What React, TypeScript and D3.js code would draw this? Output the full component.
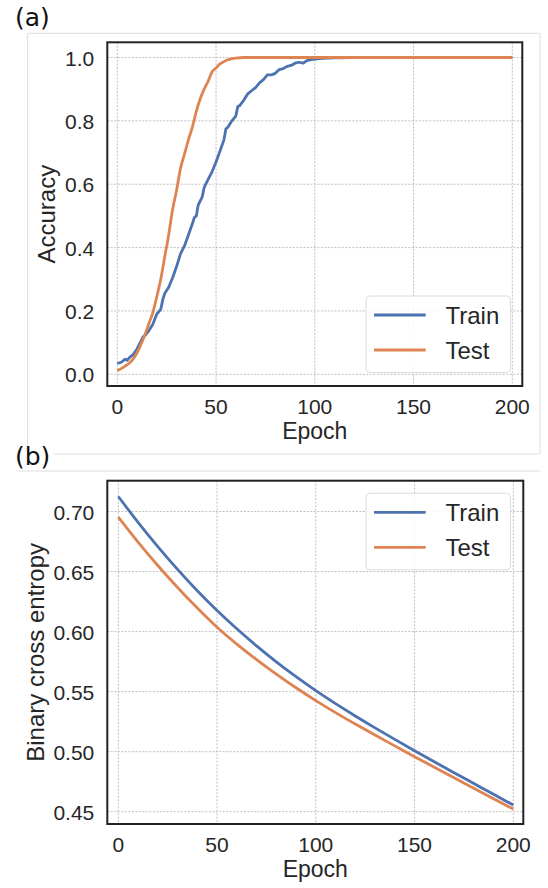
import React from 'react';
import * as d3 from 'd3';

// Shared epoch axis
const epochTicks = [0, 50, 100, 150, 200];

// Panel (a): accuracy
const accTicks = [0.0, 0.2, 0.4, 0.6, 0.8, 1.0];
const trainAccEpochs = [0, 2, 4, 5, 6, 8, 10, 12, 13, 14, 16, 18, 20, 22, 23, 24, 26, 28, 30, 32, 34, 36, 38, 39, 40, 41, 43, 44, 46, 48, 50, 52, 54, 55, 56, 58, 60, 61, 62, 64, 66, 68, 70, 72, 74, 76, 78, 80, 82, 84, 86, 88, 90, 92, 94, 96, 98, 100, 104, 110, 120, 200];
const trainAcc = [0.034, 0.038, 0.048, 0.044, 0.052, 0.062, 0.080, 0.105, 0.118, 0.122, 0.138, 0.158, 0.190, 0.205, 0.235, 0.255, 0.275, 0.305, 0.340, 0.380, 0.405, 0.440, 0.475, 0.495, 0.500, 0.535, 0.560, 0.590, 0.615, 0.640, 0.670, 0.705, 0.740, 0.775, 0.780, 0.800, 0.815, 0.845, 0.848, 0.865, 0.885, 0.895, 0.905, 0.920, 0.930, 0.945, 0.945, 0.950, 0.962, 0.965, 0.972, 0.975, 0.982, 0.985, 0.982, 0.990, 0.993, 0.995, 0.997, 0.999, 1.0, 1.0];
const testAccEpochs = [0, 2, 4, 6, 8, 10, 12, 14, 16, 18, 20, 22, 24, 26, 28, 30, 32, 34, 36, 38, 40, 42, 44, 46, 48, 50, 52, 54, 56, 58, 60, 64, 200];
const testAcc = [0.012, 0.018, 0.026, 0.035, 0.048, 0.068, 0.095, 0.125, 0.160, 0.195, 0.245, 0.300, 0.370, 0.440, 0.520, 0.580, 0.650, 0.695, 0.740, 0.780, 0.830, 0.870, 0.900, 0.925, 0.955, 0.967, 0.980, 0.987, 0.993, 0.996, 0.998, 1.0, 1.0];

// Panel (b): binary cross entropy
const lossTicks = [0.45, 0.50, 0.55, 0.60, 0.65, 0.70];
const lossEpochs = [0, 10, 20, 30, 40, 50, 60, 70, 80, 90, 100, 110, 120, 130, 140, 150, 160, 170, 180, 190, 200];
const trainLoss = [0.7125, 0.691, 0.6708, 0.6518, 0.634, 0.6175, 0.6023, 0.5881, 0.5748, 0.5624, 0.5508, 0.54, 0.5297, 0.5198, 0.5102, 0.5008, 0.4916, 0.4825, 0.4735, 0.4645, 0.4555];
const testLoss = [0.6953, 0.6745, 0.655, 0.6367, 0.6196, 0.6036, 0.5896, 0.5767, 0.5646, 0.5532, 0.5425, 0.5325, 0.523, 0.5138, 0.5048, 0.4958, 0.487, 0.4782, 0.4695, 0.4608, 0.4522];

const seriesNames = ['Train', 'Test'];
const BLUE = '#4c72b0';
const ORANGE = '#dd8452';
const TEXT = '#262626';
const FONT = '"Liberation Sans", Arial, Helvetica, sans-serif';

type Series = { xs: number[]; ys: number[]; color: string; curve: d3.CurveFactory };

type PanelProps = {
  frame: { left: number; right: number; top: number; bottom: number };
  xRange: [number, number];
  yDomain: [number, number];
  yRange: [number, number];
  yTicks: number[];
  yFormat: (v: number) => string;
  yLabel: string;
  yLabelX: number;
  series: Series[];
  legendTop: number;
};

function Panel(p: PanelProps) {
  const { frame } = p;
  const x = d3.scaleLinear().domain([0, 200]).range(p.xRange);
  const y = d3.scaleLinear().domain(p.yDomain).range(p.yRange);
  const grid = { stroke: '#b8b8b8', strokeWidth: 0.9, strokeDasharray: '2,1.5' };
  const legendLeft = 366;
  const legendRight = 510.5;
  return (
    <g>
      {epochTicks.map((t) => (
        <line key={'gx' + t} x1={x(t)} x2={x(t)} y1={frame.top} y2={frame.bottom} {...grid} />
      ))}
      {p.yTicks.map((t) => (
        <line key={'gy' + t} x1={frame.left} x2={frame.right} y1={y(t)} y2={y(t)} {...grid} />
      ))}
      {p.series.map((s, i) => {
        const line = d3
          .line<number>()
          .x((_, j) => x(s.xs[j]))
          .y((v) => y(v))
          .curve(s.curve);
        return (
          <path key={'s' + i} d={line(s.ys) || ''} fill="none" stroke={s.color} strokeWidth={2.8} strokeLinejoin="round" strokeLinecap="butt" />
        );
      })}
      <rect x={frame.left} y={frame.top} width={frame.right - frame.left} height={frame.bottom - frame.top} fill="none" stroke="#222" strokeWidth={2} />
      {epochTicks.map((t) => (
        <text key={'tx' + t} x={x(t)} y={frame.bottom + 28} textAnchor="middle" fontSize={21} fill={TEXT} fontFamily={FONT}>
          {t}
        </text>
      ))}
      {p.yTicks.map((t) => (
        <text key={'ty' + t} x={frame.left - 13} y={y(t) + 8} textAnchor="end" fontSize={21} fill={TEXT} fontFamily={FONT}>
          {p.yFormat(t)}
        </text>
      ))}
      <text x={(frame.left + frame.right) / 2} y={frame.bottom + 53} textAnchor="middle" fontSize={23} fill={TEXT} fontFamily={FONT}>
        Epoch
      </text>
      <text transform={`translate(${p.yLabelX},${(frame.top + frame.bottom) / 2}) rotate(-90)`} textAnchor="middle" fontSize={24} fill={TEXT} fontFamily={FONT}>
        {p.yLabel}
      </text>
      <rect x={legendLeft} y={p.legendTop} width={legendRight - legendLeft} height={76.5} rx={4} ry={4} fill="#fff" fillOpacity={0.85} stroke="#dcdcdc" strokeWidth={1} />
      {seriesNames.map((name, i) => (
        <g key={name}>
          <line x1={374} x2={425.7} y1={p.legendTop + 19 + i * 35} y2={p.legendTop + 19 + i * 35} stroke={p.series[i].color} strokeWidth={2.8} />
          <text x={445.5} y={p.legendTop + 28 + i * 35} fontSize={24} fill={TEXT} fontFamily={FONT}>
            {name}
          </text>
        </g>
      ))}
    </g>
  );
}

export default function App() {
  const fmt1 = d3.format('.1f');
  const fmt2 = d3.format('.2f');
  return (
    <svg width={548} height={888} style={{ position: 'absolute', left: 0, top: 0, background: '#fff' }}>
      <rect width={548} height={888} fill="#fff" />
      {/* figure outlines */}
      <polyline points="27.7,454 27.7,33.3 540,33.3 540,454 27.7,454" fill="none" stroke="#dedede" strokeWidth={1} />
      <line x1={17} x2={540} y1={471} y2={471} stroke="#dedede" strokeWidth={1} />

      <Panel
        frame={{ left: 107.3, right: 522.3, top: 42.3, bottom: 386 }}
        xRange={[117.3, 512.3]}
        yDomain={[0, 1]}
        yRange={[374.3, 57.5]}
        yTicks={accTicks}
        yFormat={fmt1}
        yLabel="Accuracy"
        yLabelX={55}
        series={[
          { xs: trainAccEpochs, ys: trainAcc, color: BLUE, curve: d3.curveLinear },
          { xs: testAccEpochs, ys: testAcc, color: ORANGE, curve: d3.curveMonotoneX },
        ]}
        legendTop={296}
      />
      <Panel
        frame={{ left: 107.3, right: 523.3, top: 480.7, bottom: 824 }}
        xRange={[118.3, 513.3]}
        yDomain={[0.45, 0.7]}
        yRange={[811.7, 511.5]}
        yTicks={lossTicks}
        yFormat={fmt2}
        yLabel="Binary cross entropy"
        yLabelX={44}
        series={[
          { xs: lossEpochs, ys: trainLoss, color: BLUE, curve: d3.curveMonotoneX },
          { xs: lossEpochs, ys: testLoss, color: ORANGE, curve: d3.curveMonotoneX },
        ]}
        legendTop={493.3}
      />

      <rect x={15} y={446} width={39} height={24} fill="#fff" />
      <text x={15} y={26} fontSize={25} fill="#111" fontFamily='"DejaVu Sans", Verdana, sans-serif'>(a)</text>
      <text x={15} y={465} fontSize={25} fill="#111" fontFamily='"DejaVu Sans", Verdana, sans-serif'>(b)</text>
    </svg>
  );
}
